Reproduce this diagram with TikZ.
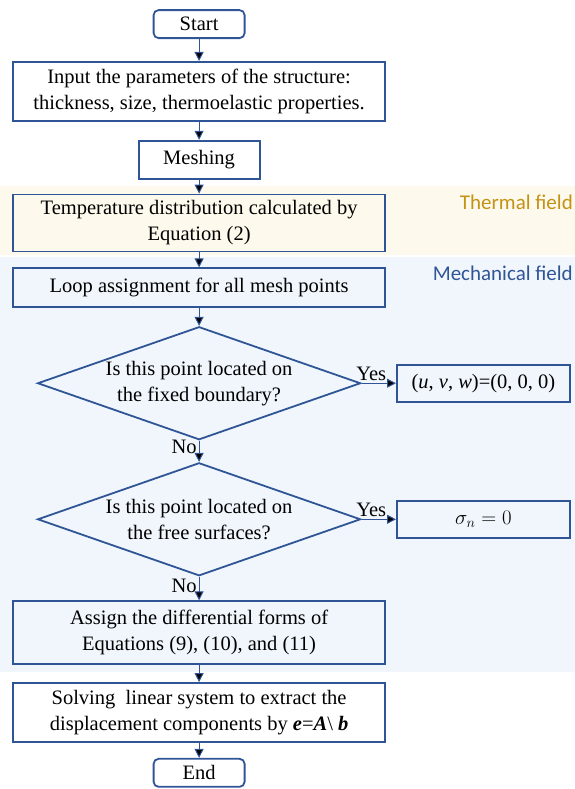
\documentclass[tikz,border=0pt]{standalone}
\usepackage{fontspec}
\setmainfont{Liberation Serif}
\newfontfamily\fieldfont{Carlito}
\usepackage{tikz}
\usetikzlibrary{matrix,arrows.meta,shapes.geometric,backgrounds}
\definecolor{boxblue}{RGB}{47,85,151}
\definecolor{thermbg}{RGB}{253,249,236}
\definecolor{mechbg}{RGB}{240,246,252}
\definecolor{thermgold}{RGB}{196,146,20}

\begin{document}
\begin{tikzpicture}[x=1pt, y=-1pt, >={Triangle[length=9pt,width=9pt]},
  every node/.style={font=\fontsize{20.5}{26}\selectfont},
  box/.style={draw=boxblue, line width=1.8pt, align=center, inner sep=0pt, minimum width=372pt},
  term/.style={box, rounded corners=5pt, minimum width=91pt, minimum height=28pt},
  decision/.style={diamond, draw=boxblue, line width=1.8pt, align=center, inner sep=0pt, aspect=2.86, minimum width=323pt, minimum height=113pt},
  side/.style={box, minimum width=173pt, minimum height=37pt},
  flow/.style={->, draw=boxblue, line width=1pt},
  yeslbl/.style={above, pos=0.28, inner sep=2.5pt},
  nolbl/.style={left, inner sep=2pt},
  fieldlbl/.style={font=\fieldfont\fontsize{21}{24}\selectfont, inner sep=0pt, anchor=north east}]
  \useasboundingbox (0,0) rectangle (575,789);
  \matrix (m) [row sep=14pt, column sep=10pt, inner sep=0pt, matrix anchor=north west] at (12,9)
  {
\node[term] (start) {Start}; & \\[8pt]
\node[box, minimum height=59pt] (input) {Input the parameters of the structure:\\thickness, size, thermoelastic properties.}; & \\[4pt]
\node[box, minimum width=121pt, minimum height=38pt] (mesh) {Meshing}; & \\[0pt]
\node[box, minimum height=57pt] (temp) {Temperature distribution calculated by\\Equation (2)}; & \\[1pt]
\node[box, minimum height=39pt] (loop) {Loop assignment for all mesh points}; & \\[4pt]
\node[decision] (fixq) {Is this point located on\\the fixed boundary?}; & \node[side] (fixbc) {(\textit{u}, \textit{v}, \textit{w})=(0, 0, 0)}; \\[8pt]
\node[decision] (freeq) {Is this point located on\\the free surfaces?}; & \node[side] (freebc) {$\sigma_n = 0$}; \\[10pt]
\node[box, minimum height=63pt] (assign) {Assign the differential forms of\\Equations (9), (10), and (11)}; & \\[3pt]
\node[box, minimum height=59pt] (solve) {Solving~ linear system to extract the\\displacement components by \textbf{\textit{e}}=\textbf{\textit{A}}\textbackslash{} \textbf{\textit{b}}}; & \\[1pt]
\node[term] (end) {End}; & \\
};
  \path[flow]
  (start) edge (input)
  (input) edge (mesh)
  (mesh) edge (temp)
  (temp) edge (loop)
  (loop) edge (fixq)
  (fixq) edge node [yeslbl] {Yes} (fixbc)
         edge node [nolbl, pos=0.3] {No} (freeq)
  (freeq) edge node [yeslbl] {Yes} (freebc)
          edge node [nolbl, pos=0.38] {No} (assign)
  (assign) edge (solve)
  (solve) edge (end)
  ;
  % field bands
  \coordinate (thtop) at ([yshift=-6pt]mesh.south);
  \coordinate (thbot) at ([yshift=-3pt]temp.south);
  \coordinate (mechtop) at ([yshift=-5pt]temp.south);
  \coordinate (mechbot) at ([yshift=-7pt]assign.south);
  \begin{scope}[on background layer]
    \fill[thermbg] (0,0 |- thtop) rectangle (575,0 |- thbot);
    \fill[mechbg] (0,0 |- mechtop) rectangle (575,0 |- mechbot);
  \end{scope}
  \node[fieldlbl, text=thermgold, yshift=-9pt] (thlbl) at (573,0 |- thtop) {Thermal field};
  \node[fieldlbl, text=boxblue, yshift=-8pt] (mechlbl) at (573,0 |- mechtop) {Mechanical field};
\end{tikzpicture}
\end{document}
